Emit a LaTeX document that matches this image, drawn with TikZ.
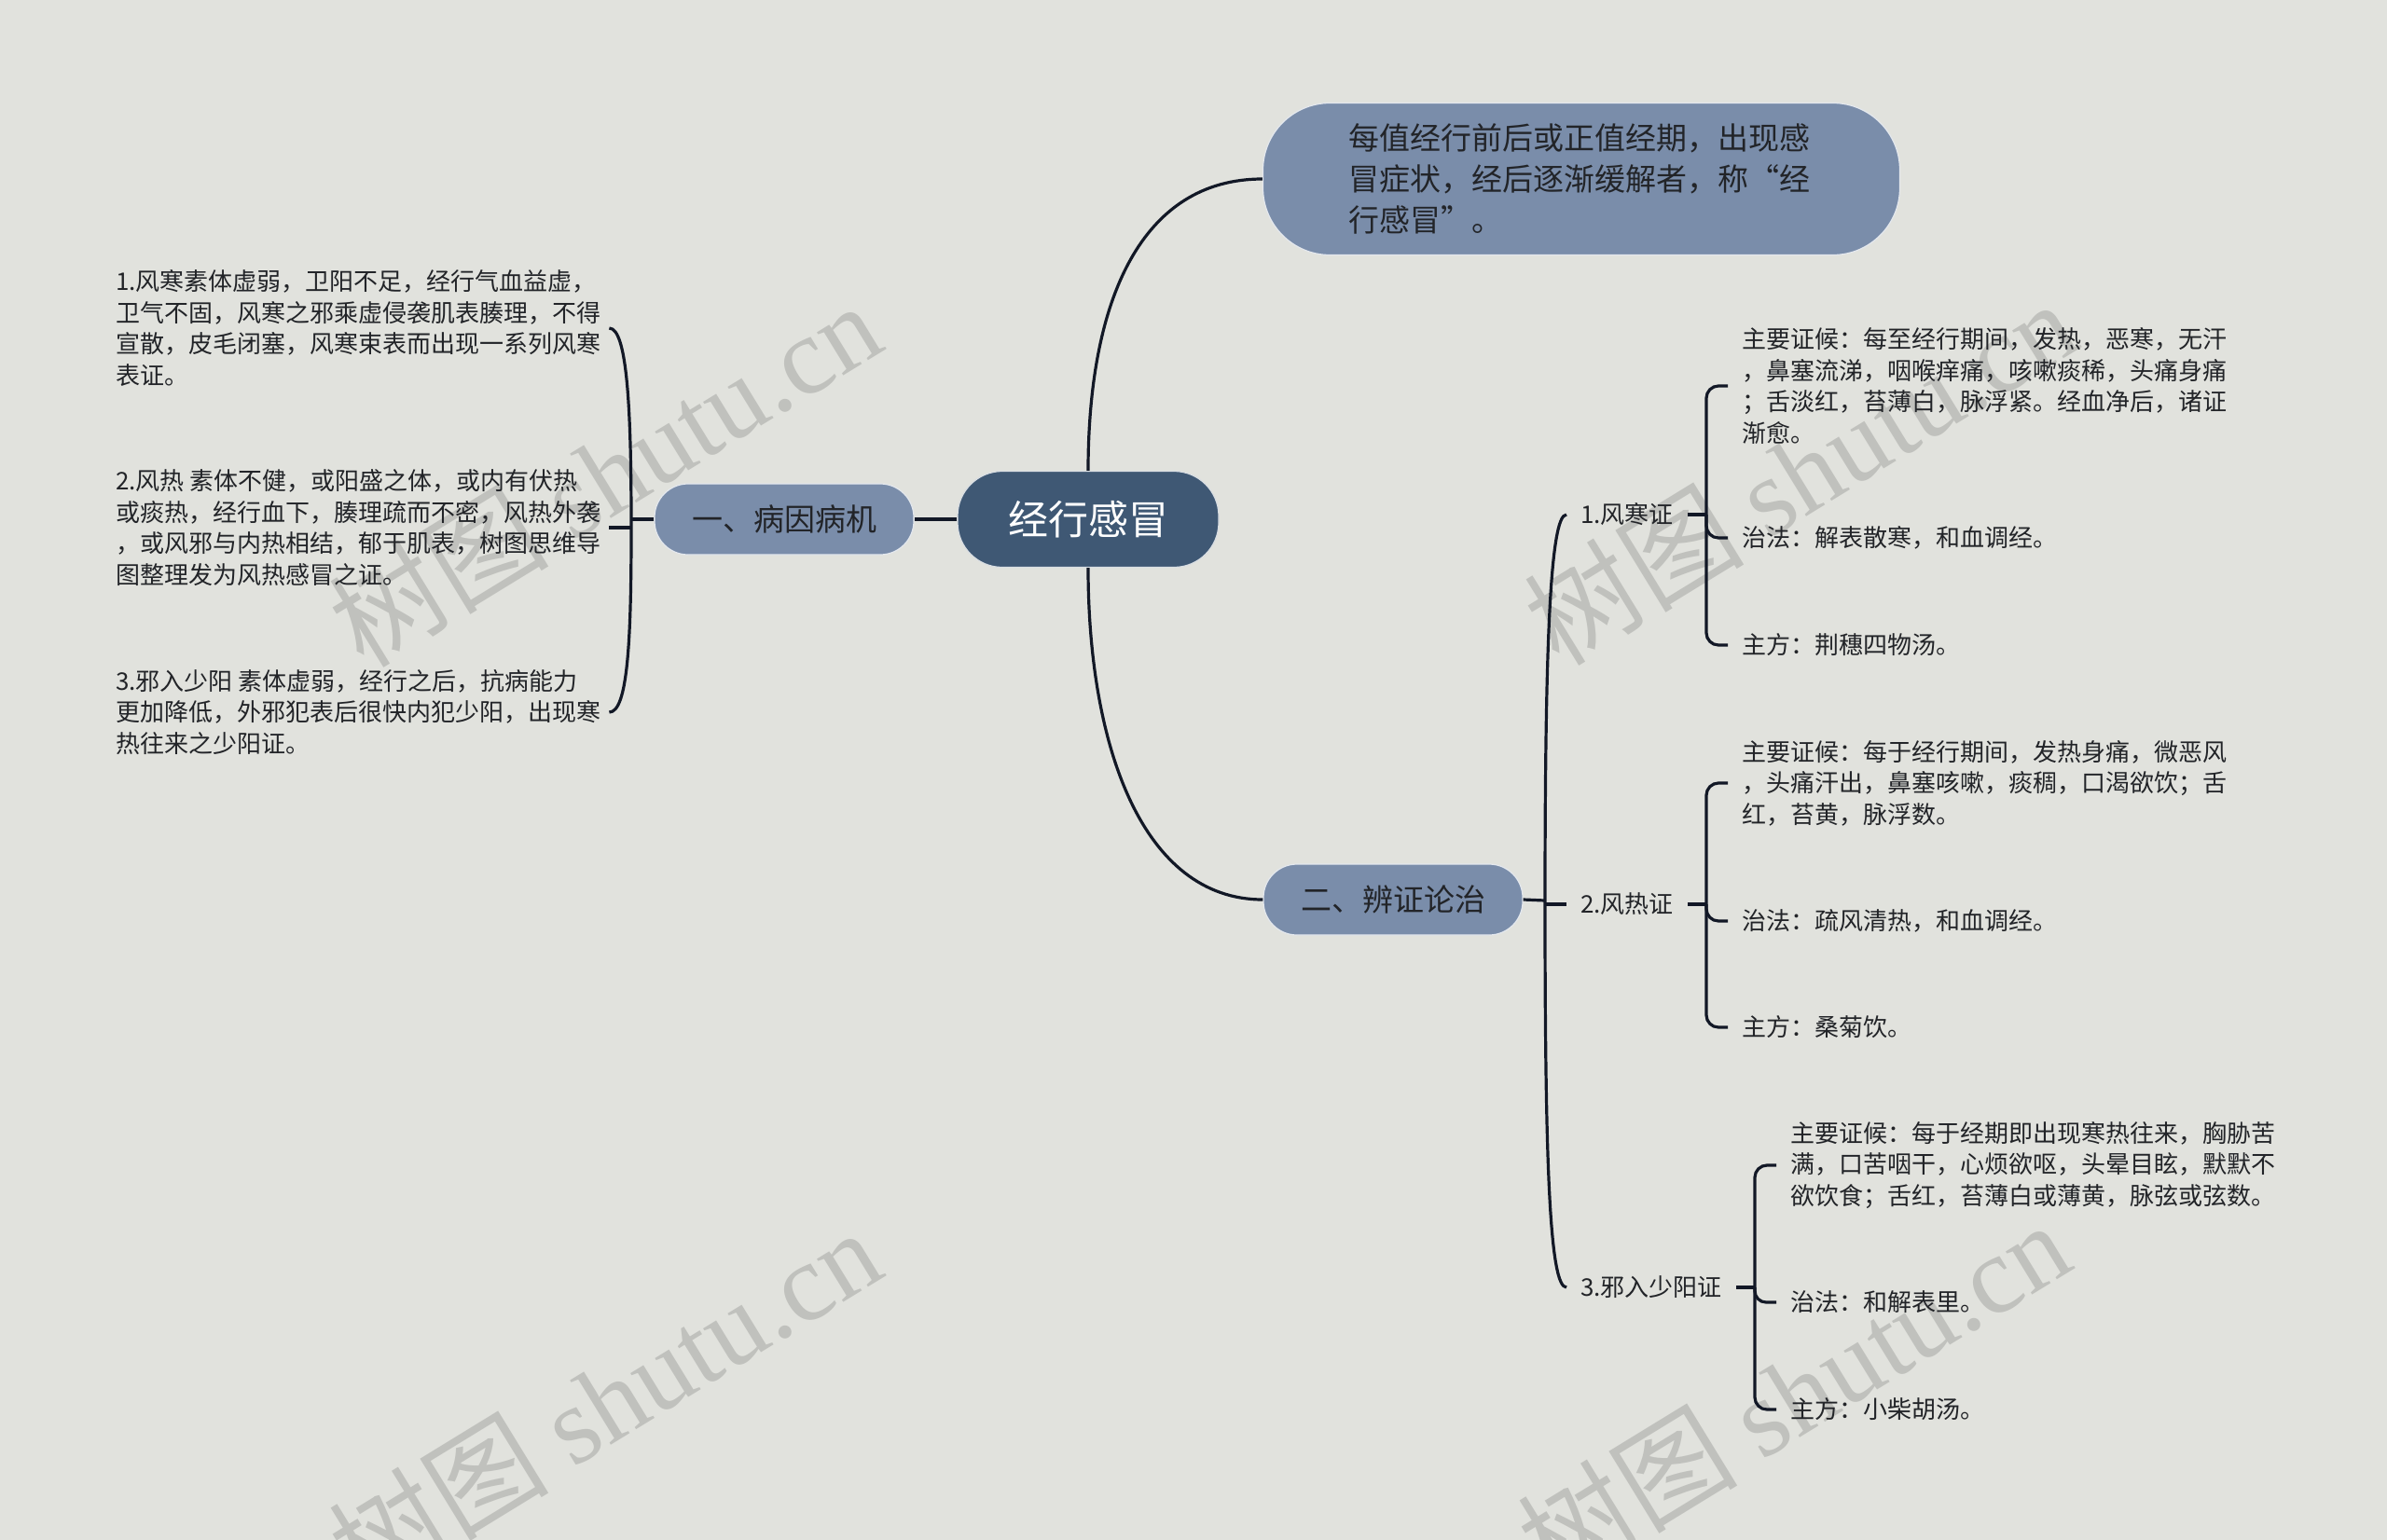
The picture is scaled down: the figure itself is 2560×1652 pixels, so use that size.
\documentclass[tikz,border=0pt]{standalone}
\usepackage{fontspec}
\setmainfont{Noto Sans CJK SC}
\newfontfamily\wmfont{Liberation Serif}
\usepackage{tikz}
\usetikzlibrary{positioning, calc}
\definecolor{pagebg}{RGB}{225, 226, 221}
\definecolor{rootblue}{RGB}{63, 88, 116}
\definecolor{topicblue}{RGB}{122, 141, 170}
\definecolor{linenavy}{RGB}{18, 24, 38}
\definecolor{inkgray}{RGB}{34, 36, 40}
\definecolor{wmgray}{RGB}{192, 193, 189}
\tikzset{
    root/.style={rectangle, fill=rootblue, draw=white!80!rootblue, line width=1.2pt, rounded corners=48pt, minimum width=280pt, minimum height=103pt, text=white, font=\fontsize{43}{50}\selectfont},
    topic/.style={rectangle, fill=topicblue, draw=white!80!topicblue, line width=1.2pt, rounded corners=36pt, minimum width=278pt, minimum height=76pt, text=inkgray, font=\fontsize{33}{44}\selectfont},
    leaf/.style={anchor=west, inner xsep=15pt, inner ysep=2pt, align=left, text=inkgray, font=\fontsize{26}{33.5}\selectfont},
    branch/.style={draw=linenavy, line width=3.2pt},
    wm/.style={rotate=31.5, text=wmgray, font=\fontsize{118}{118}\selectfont}
}

\begin{document}
\begin{tikzpicture}[x=1pt, y=-1pt]
        \useasboundingbox[fill=pagebg] (0,0) rectangle (2560,1652);

        % watermarks
        \foreach \wx/\wy in {648/508, 1930/506, 648/1502, 1923/1494}
            \node[wm] at (\wx,\wy) {树图 {\wmfont shutu.cn}};

        % main topics
        \node[root] (root) at (1167,557) {经行感冒};
        \node[topic] (cause) at (841,557) {一、病因病机};
        \node[topic, minimum width=683pt, minimum height=163pt, rounded corners=72pt, align=left, text width=500pt, inner xsep=87pt] (def) at (1696,192) {每值经行前后或正值经期，出现感\\冒症状，经后逐渐缓解者，称“经\\行感冒”。};
        \node[topic] (diag) at (1494,965) {二、辨证论治};

        % causes
        \node[leaf, inner xsep=9pt] (c1) at (115,352) {1.风寒素体虚弱，卫阳不足，经行气血益虚，\\卫气不固，风寒之邪乘虚侵袭肌表腠理，不得\\宣散，皮毛闭塞，风寒束表而出现一系列风寒\\表证。};
        \node[leaf, inner xsep=9pt] (c2) at (115,566) {2.风热 素体不健，或阳盛之体，或内有伏热\\或痰热，经行血下，腠理疏而不密，风热外袭\\，或风邪与内热相结，郁于肌表，树图思维导\\图整理发为风热感冒之证。};
        \node[leaf, inner xsep=9pt] (c3) at (115,764) {3.邪入少阳 素体虚弱，经行之后，抗病能力\\更加降低，外邪犯表后很快内犯少阳，出现寒\\热往来之少阳证。};

        % syndromes
        \node[leaf] (s1) at (1680,552) {1.风寒证};
        \node[leaf] (s2) at (1680,970) {2.风热证};
        \node[leaf] (s3) at (1680,1381) {3.邪入少阳证};

        \node[leaf] (s1a) at (1853,414) {主要证候：每至经行期间，发热，恶寒，无汗\\，鼻塞流涕，咽喉痒痛，咳嗽痰稀，头痛身痛\\；舌淡红，苔薄白，脉浮紧。经血净后，诸证\\渐愈。};
        \node[leaf] (s1b) at (1853,577) {治法：解表散寒，和血调经。};
        \node[leaf] (s1c) at (1853,692) {主方：荆穗四物汤。};

        \node[leaf] (s2a) at (1853,840) {主要证候：每于经行期间，发热身痛，微恶风\\，头痛汗出，鼻塞咳嗽，痰稠，口渴欲饮；舌\\红，苔黄，脉浮数。};
        \node[leaf] (s2b) at (1853,988) {治法：疏风清热，和血调经。};
        \node[leaf] (s2c) at (1853,1102) {主方：桑菊饮。};

        \node[leaf] (s3a) at (1905,1250) {主要证候：每于经期即出现寒热往来，胸胁苦\\满，口苦咽干，心烦欲呕，头晕目眩，默默不\\欲饮食；舌红，苔薄白或薄黄，脉弦或弦数。};
        \node[leaf] (s3b) at (1905,1397) {治法：和解表里。};
        \node[leaf] (s3c) at (1905,1512) {主方：小柴胡汤。};

        % root branches
        \draw[branch] (root.west) -- (cause.east);
        \draw[branch] (root.north) .. controls (1167,320) and (1225,192) .. (def.west);
        \draw[branch] (root.south) .. controls (1167,800) and (1225,965) .. (diag.west);

        % cause bracket
        \coordinate (cj0) at (677,557);
        \coordinate (cj) at (677,566);
        \draw[branch] (cause.west) -- (cj0);
        \draw[branch] (c1.east) .. controls +(20,0) and +(0,-120) .. (cj) .. controls +(0,120) and +(20,0) .. (c3.east);
        \draw[branch] (cj) -- (c2.east);

        % diagnosis bracket
        \coordinate (dj0) at (1657,966);
        \coordinate (dj) at (1657,970);
        \draw[branch] (diag.east) -- (dj0);
        \draw[branch] (s1.west) .. controls +(-18,0) and +(0,-270) .. (dj) .. controls +(0,280) and +(-18,0) .. (s3.west);
        \draw[branch] (dj) -- (s2.west);

        % syndrome brackets
        \coordinate (f1) at (1830,552);
        \coordinate (f2) at (1830,970);
        \coordinate (f3) at (1882,1381);
        \draw[branch] (s1.east) -- (f1);
        \draw[branch] (s2.east) -- (f2);
        \draw[branch] (s3.east) -- (f3);
        \draw[branch, rounded corners=13pt] (s1a.west) -| (f1) |- (s1c.west);
        \draw[branch, rounded corners=13pt] (f1) |- (s1b.west);
        \draw[branch, rounded corners=13pt] (s2a.west) -| (f2) |- (s2c.west);
        \draw[branch, rounded corners=13pt] (f2) |- (s2b.west);
        \draw[branch, rounded corners=13pt] (s3a.west) -| (f3) |- (s3c.west);
        \draw[branch, rounded corners=12pt] (f3) |- (s3b.west);
    \end{tikzpicture}
\end{document}
